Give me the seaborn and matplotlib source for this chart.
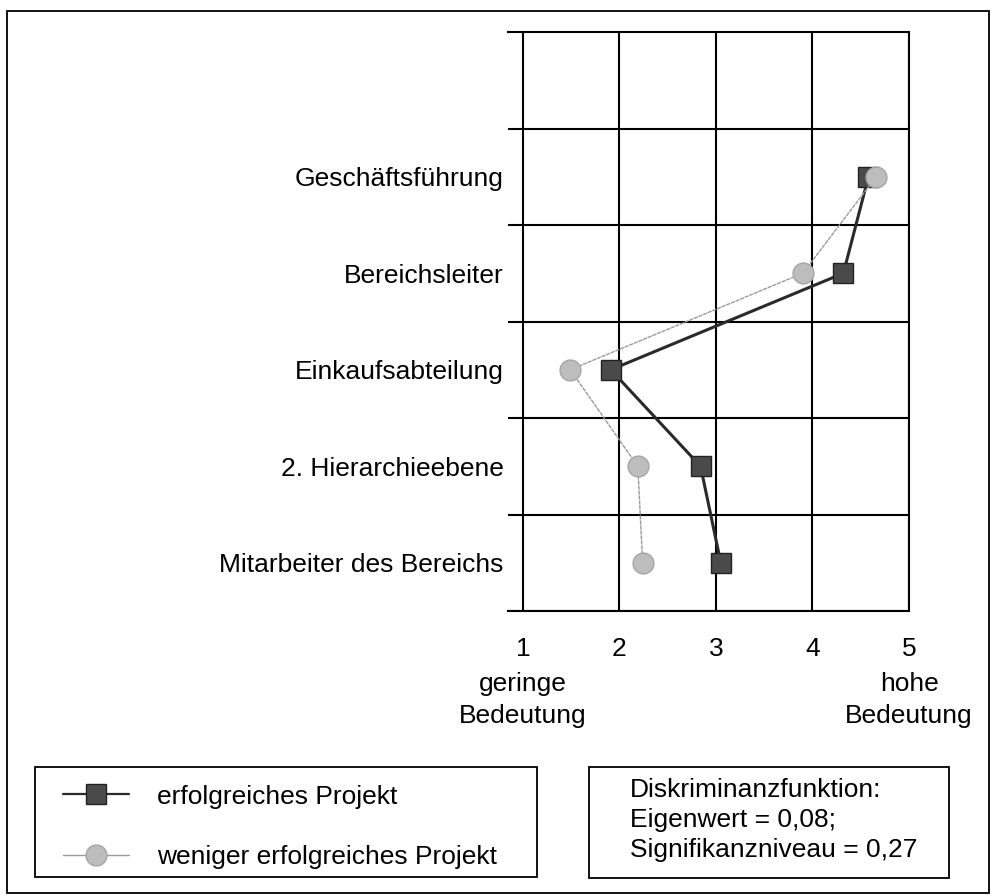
import pandas as pd
import matplotlib.pyplot as plt
import seaborn as sns
from matplotlib.patches import Rectangle
from matplotlib.lines import Line2D

# Werte
kategorien = ["Geschäftsführung", "Bereichsleiter", "Einkaufsabteilung",
              "2. Hierarchieebene", "Mitarbeiter des Bereichs"]
erfolgreich = [4.58, 4.32, 1.91, 2.84, 3.05]
weniger = [4.66, 3.90, 1.49, 2.19, 2.24]
x_ticks = [1, 2, 3, 4, 5]
serien = ["erfolgreiches Projekt", "weniger erfolgreiches Projekt"]

df = pd.DataFrame({
    "Kategorie": kategorien * 2,
    "pos": list(range(1, len(kategorien) + 1)) * 2,
    "Wert": erfolgreich + weniger,
    "Gruppe": [serien[0]] * len(kategorien) + [serien[1]] * len(kategorien),
})

sns.set_style("white")
plt.rcParams['font.family'] = ['Liberation Sans', 'DejaVu Sans']
plt.rcParams['text.color'] = 'black'
plt.rcParams['xtick.color'] = 'black'
plt.rcParams['ytick.color'] = 'black'
FS = 19

fig = plt.figure(figsize=(9.95, 8.96), dpi=100)
ax = fig.add_axes([508 / 995, (896 - 611) / 896, 401 / 995, 579 / 896])

sns.lineplot(data=df[df["Gruppe"] == serien[0]], x="Wert", y="pos", sort=False,
             orient="y", ax=ax, color="#2a2a2a", linewidth=2.2, marker="s",
             markersize=15, markerfacecolor="#4a4a4a", markeredgecolor="#222222",
             markeredgewidth=1, zorder=3, legend=False)
sns.lineplot(data=df[df["Gruppe"] == serien[1]], x="Wert", y="pos", sort=False,
             orient="y", ax=ax, color="#9a9a9a", linewidth=1.0, linestyle=(0, (3, 0.6)),
             marker="o", markersize=15, markerfacecolor="#bdbdbd",
             markeredgecolor="#a5a5a5", markeredgewidth=1, zorder=4, legend=False)

ax.set_xlim(0.845, 5)
ax.set_ylim(len(kategorien) + 0.5, -0.5)

ax.set_xticks(x_ticks)
ax.set_xticklabels([str(t) for t in x_ticks], fontsize=FS)
ax.set_xticks([v / 5 for v in range(5, 25) if v % 5 != 0], minor=True)
ax.set_yticks(range(1, len(kategorien) + 1))
ax.set_yticklabels(kategorien, fontsize=FS)
ax.set_yticks([i + 0.5 for i in range(0, len(kategorien) + 1)], minor=True)

ax.tick_params(axis="x", which="major", direction="out", length=11.5, width=1.5,
               color="black", pad=7)
ax.tick_params(axis="x", which="minor", direction="out", length=5.5, width=1.3,
               color="black")
ax.tick_params(axis="y", which="both", length=0, pad=3)

ax.grid(False)
ax.xaxis.grid(True, which="major", color="black", linewidth=1.5)
ax.yaxis.grid(True, which="minor", color="black", linewidth=1.5)
ax.set_axisbelow(True)

ax.spines["left"].set_visible(False)
for s in ["top", "right", "bottom"]:
    ax.spines[s].set_color("black")
    ax.spines[s].set_linewidth(1.5)

ax.set_xlabel("")
ax.set_ylabel("")

# Skalenbeschriftung
fig.text(523 / 995, 1 - 700 / 896, "geringe\nBedeutung", fontsize=FS, ha="center",
         va="center", linespacing=1.38)
fig.text(909 / 995, 1 - 700 / 896, "hohe\nBedeutung", fontsize=FS, ha="center",
         va="center", linespacing=1.38)

# Legende
fig.patches.append(Rectangle((35 / 995, 1 - 877 / 896), 502 / 995, 110 / 896,
                             transform=fig.transFigure, fill=False,
                             edgecolor="black", linewidth=1.3))
handles = [
    Line2D([], [], color="#2a2a2a", linewidth=1.6, marker="s", markersize=15,
           markerfacecolor="#4a4a4a", markeredgecolor="#222222"),
    Line2D([], [], color="#9a9a9a", linewidth=1.0, marker="o", markersize=15,
           markerfacecolor="#bdbdbd", markeredgecolor="#a5a5a5"),
]
leg = fig.legend(handles, serien, loc="center left",
                 bbox_to_anchor=(63 / 995, 1 - 827 / 896),
                 fontsize=FS, frameon=False, handlelength=2.5, handletextpad=1.05,
                 borderpad=0.0, labelspacing=1.39, borderaxespad=0)

# Diskriminanzfunktion
fig.patches.append(Rectangle((589 / 995, 1 - 878 / 896), 360 / 995, 111 / 896,
                             transform=fig.transFigure, fill=False,
                             edgecolor="black", linewidth=1.3))
fig.text(630 / 995, 1 - 820 / 896,
         "Diskriminanzfunktion:\nEigenwert = 0,08;\nSignifikanzniveau = 0,27",
         fontsize=FS, ha="left", va="center", linespacing=1.29)

# Rahmen
fig.patches.append(Rectangle((7 / 995, 3 / 896), 982 / 995, 882 / 896,
                             transform=fig.transFigure, fill=False,
                             edgecolor="black", linewidth=1.3))

plt.savefig("out.png", dpi=100)
